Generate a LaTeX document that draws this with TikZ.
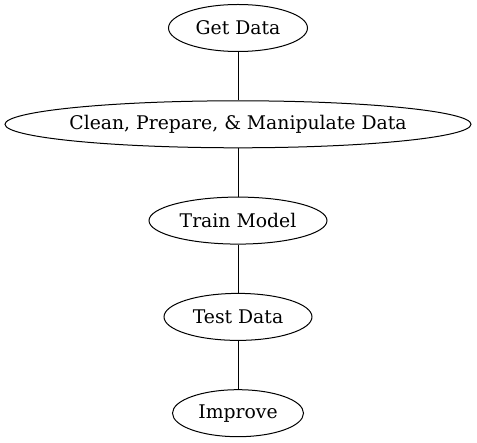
\documentclass[tikz,border=0pt]{standalone}
\usepackage{fontspec}
\setmainfont{DejaVu Serif}
\usetikzlibrary{positioning, shapes.geometric}
\newcommand{\widelbl}[1]{\makebox[0pt]{#1}}
\tikzset{
  every picture/.style={line width=1pt},
  stage/.style={draw, ellipse, inner sep=0pt, minimum height=47pt, font=\fontsize{18.8}{22}\selectfont},
  link/.style={draw},
}
\begin{document}
\begin{tikzpicture}[x=1pt, y=1pt, node distance=48.3pt]
  \useasboundingbox (0,0) rectangle (477,-443);
  % pipeline stages, top to bottom
  \node[stage, minimum width=139pt] (get) at (238,-28) {Get Data};
  \node[stage, minimum width=466pt, below=of get] (clean) {\widelbl{Clean, Prepare, \& Manipulate Data}};
  \node[stage, minimum width=178pt, below=of clean] (train) {Train Model};
  \node[stage, minimum width=148pt, below=of train] (test) {Test Data};
  \node[stage, minimum width=131pt, below=of test] (improve) {Improve};
  % plain connectors, no tips
  \draw[link] (get) -- (clean);
  \draw[link] (clean) -- (train);
  \draw[link] (train) -- (test);
  \draw[link] (test) -- (improve);
\end{tikzpicture}
\end{document}
